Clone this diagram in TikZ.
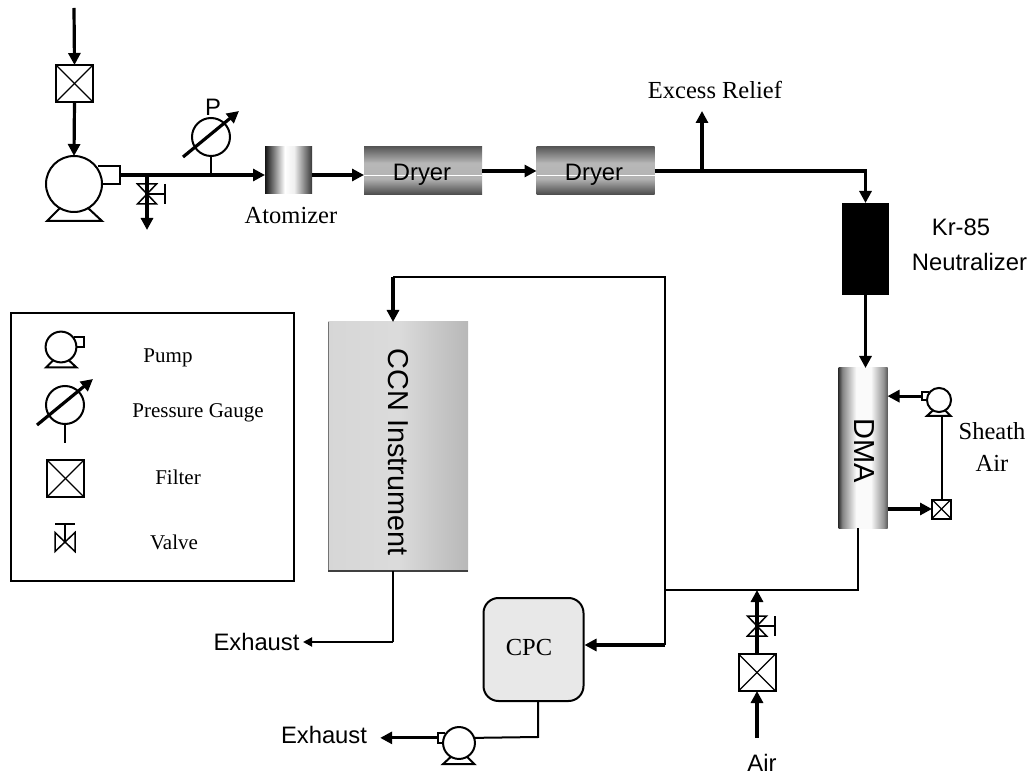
\documentclass[tikz,border=0pt]{standalone}
\usepackage{fontspec}
\setmainfont{Liberation Serif}
\setsansfont{Liberation Sans}
\usetikzlibrary{arrows.meta}

\pgfdeclarehorizontalshading{atomshade}{100bp}{color(0bp)=(black!92); color(25bp)=(black!92); color(46bp)=(white); color(56bp)=(black!6); color(75bp)=(black!78); color(100bp)=(black!78)}
\pgfdeclareverticalshading{dryershade}{100bp}{color(0bp)=(black!72); color(25bp)=(black!72); color(42bp)=(black!30); color(58bp)=(black!28); color(75bp)=(black!65); color(100bp)=(black!65)}
\pgfdeclarehorizontalshading{dmashade}{100bp}{color(0bp)=(black!80); color(25bp)=(black!80); color(29bp)=(black!48); color(43bp)=(black!2); color(58bp)=(black!2); color(71bp)=(black!42); color(75bp)=(black!65); color(100bp)=(black!65)}
\pgfdeclarehorizontalshading{ccnshade}{100bp}{color(0bp)=(black!16); color(25bp)=(black!16); color(50bp)=(black!14); color(75bp)=(black!28); color(100bp)=(black!28)}

\tikzset{
  pipe/.style={line width=3.2pt},
  line/.style={line width=2pt},
  flow/.style={pipe,-{Triangle[length=12pt,width=12pt]}},
  thinflow/.style={line,-{Triangle[length=9pt,width=9pt]}},
  romantag/.style={font=\fontsize{24.5}{32}\selectfont,align=center},
  sanstag/.style={font=\fontsize{23.8}{27}\selectfont\sffamily,align=center},
  keytag/.style={font=\fontsize{21}{24}\selectfont},
  filterbox/.style={draw,line width=2pt,inner sep=0pt,outer sep=0pt,
    path picture={
      \draw [line width=1.3pt] (path picture bounding box.north west) -- (path picture bounding box.south east);
      \draw [line width=1.3pt] (path picture bounding box.north east) -- (path picture bounding box.south west);
    }},
  tank/.style={inner sep=0pt,outer sep=0pt,minimum width=#1},
  pics/pump/.style={code={
    \draw [line] (0,0) circle [radius=28];
    \draw [line] (24,-18) -- (#1,-18) -- (#1,0) -- (28,0);
    \draw [line] (-14,24) -- (-27,37) -- (28,37) -- (14,24);
    \coordinate (-top) at (0,-28);
    \coordinate (-port) at (#1,-9);
    \coordinate (-side) at (-28,-9);
    \coordinate (-base) at (0,37);
  }},
  pics/gauge/.style={code={
    \draw [line] (0,0) circle [radius=19];
    \draw [line] (0,19) -- (0,38);
    \draw [flow] (-28,20) -- (28,-26);
  }},
  pics/valve/.style={code={
    \draw [line width=1.5pt,fill=white] (-9.5,-10) -- (9.5,-10) -- (-9.5,10) -- (9.5,10) -- cycle;
    \draw [line width=1.5pt] (0,0) -- (18,0);
    \draw [line width=1.5pt] (18,-10) -- (18,10);
  }}
}

\begin{document}
\begin{tikzpicture}[x=1pt,y=-1pt]
    \useasboundingbox (0,0) rectangle (1031,775);

    \node [filterbox,minimum size=37pt] (inFilter) at (74.5,83.5) {};
    \pic (inPump) at (74,184) {pump=46};
    \pic at (211,137) {gauge};
    \pic at (147,194) {valve};
    \node [tank=47pt,minimum height=47pt,shade,shading=atomshade] (atomizer) at (288.5,170.5) {};
    \node [romantag] (atomizerText) at (291,216) {Atomizer};
    \node [tank=118pt,minimum height=48pt,shade,shading=dryershade] (dryerA) at (423,171) {};
    \node [tank=118pt,minimum height=48pt,shade,shading=dryershade] (dryerB) at (595.5,171) {};
    \draw [white!70!black,line width=.6pt] (dryerA.west |- 0,162) -- (dryerA.east |- 0,162);
    \draw [white,line width=.7pt] (dryerA.west |- 0,175) -- (dryerA.east |- 0,175);
    \draw [white!70!black,line width=.6pt] (dryerB.west |- 0,162) -- (dryerB.east |- 0,162);
    \draw [white,line width=.7pt] (dryerB.west |- 0,175) -- (dryerB.east |- 0,175);
    \node [sanstag] (dryerAText) at (422,175) {Dryer};
    \node [sanstag] (dryerBText) at (594,175) {Dryer};
    \node [sanstag] (gaugeText) at (213,107) {P};
    \node [romantag] (reliefText) at (715,90) {Excess Relief};
    \node [tank=47pt,minimum height=92pt,fill=black] (neutralizer) at (865.5,249) {};
    \node [sanstag] (krText) at (961,227) {Kr-85};
    \node [sanstag] (neutralizerText) at (969.5,262) {Neutralizer};
    \node [tank=49pt,minimum height=160pt,shade,shading=dmashade] (dma) at (863,448) {};
    \node [font=\fontsize{29}{30}\selectfont\sffamily,rotate=-90] (dmaText) at (864,451) {DMA};
    \pic [scale=.43,xscale=-1] (sheathPump) at (939,400) {pump=40};
    \node [filterbox,minimum size=19pt] (sheathFilter) at (941.5,509) {};
    \node [romantag] (sheathText) at (992,447) {Sheath\\Air};
    \node [tank=140pt,minimum height=249pt,shade,shading=ccnshade] (ccn) at (398,446.5) {};
    \draw [line width=1pt,black!55] (ccn.north west) -- (ccn.south west);
    \draw [line width=1.2pt,black!75] (ccn.south west) -- (ccn.south east);
    \node [font=\fontsize{28.8}{30}\selectfont\sffamily,rotate=-90] (ccnText) at (398,452) {CCN Instrument};
    \node [sanstag] (exhaustA) at (256.5,642) {Exhaust};
    \node [draw,line width=2pt,fill=black!9,rounded corners=15pt,inner sep=0pt,minimum width=100pt,minimum height=103pt] (cpc) at (533.5,649.5) {};
    \node [romantag] (cpcText) at (529,648) {CPC};
    \pic [scale=.57,xscale=-1] (cpcPump) at (459,743) {pump=37};
    \node [sanstag,inner sep=13pt] (exhaustB) at (324,735) {Exhaust};
    \node [filterbox,minimum size=37pt] (airFilter) at (757,672.5) {};
    \pic at (757,626) {valve};
    \node [sanstag,inner sep=0pt] (airText) at (762,763) {Air};

    \coordinate (inlet) at (74,8);
    \coordinate (drain) at (147,230);
    \coordinate (relief) at (702,111);
    \coordinate (dmaOut) at (858,590);
    \coordinate (tee) at (665,590);
    \coordinate (teeTop) at (665,277);
    \coordinate (cpcIn) at (665,645);
    \coordinate (ccnIn) at (393,277);
    \coordinate (ccnOut) at (393,642);
    \coordinate (cpcOut) at (538,737);
    \coordinate (airIn) at (757,738);

    \draw [flow] (inlet) -- (inFilter.north);
    \draw [flow] (inFilter.south) -- (inPump-top);
    \draw [flow] (inPump-port) -- (inPump-port -| atomizer.west);
    \draw [flow] (inPump-port -| drain) -- (drain);
    \draw [flow] (inPump-port -| atomizer.east) -- (inPump-port -| dryerA.west);
    \draw [flow] (dryerA.east) -- (dryerB.west);
    \draw [flow] (dryerB.east) -| (neutralizer.north);
    \draw [flow] (dryerB.east -| relief) -- (relief);
    \draw [flow] (neutralizer.south) -- (neutralizer.south |- dma.north);
    \draw [flow] (sheathPump-port) -- (sheathPump-port -| dma.east);
    \draw [line] (sheathPump-base -| sheathFilter.north) -- (sheathFilter.north);
    \draw [flow] (dma.east |- sheathFilter.west) -- (sheathFilter.west);
    \draw [line] (dmaOut |- dma.south) -- (dmaOut) -- (tee);
    \draw [line] (cpcIn) -- (teeTop) -- (ccnIn);
    \draw [flow] (ccnIn) -- (ccnIn |- ccn.north);
    \draw [flow] (cpcIn) -- (cpcIn -| cpc.east);
    \draw [line] (ccnOut |- ccn.south) -- (ccnOut);
    \draw [thinflow] (ccnOut) -- (exhaustA.east);
    \draw [line] (cpcOut |- cpc.south) -- (cpcOut) -- (cpcPump-side);
    \draw [flow] (cpcPump-port) -- (exhaustB.east |- cpcPump-port);
    \draw [flow] (airIn) -- (airFilter.south);
    \draw [flow] (airFilter.north) -- (airFilter.north |- tee);

    \node [draw,line width=1.5pt,minimum width=283pt,minimum height=268pt] (legend) at (152.5,447) {};
    \pic [scale=.55] (keyPump) at (61,347) {pump=42};
    \node [keytag] (keyPumpText) at (168,358) {Pump};
    \pic at (65,405) {gauge};
    \node [keytag] (keyGaugeText) at (198,413) {Pressure Gauge};
    \node [filterbox,minimum size=37pt] (keyFilter) at (65.5,478.5) {};
    \node [keytag] (keyFilterText) at (178,477) {Filter};
    \pic [rotate=90] at (65,542) {valve};
    \node [keytag] (keyValveText) at (174,542) {Valve};
\end{tikzpicture}
\end{document}
